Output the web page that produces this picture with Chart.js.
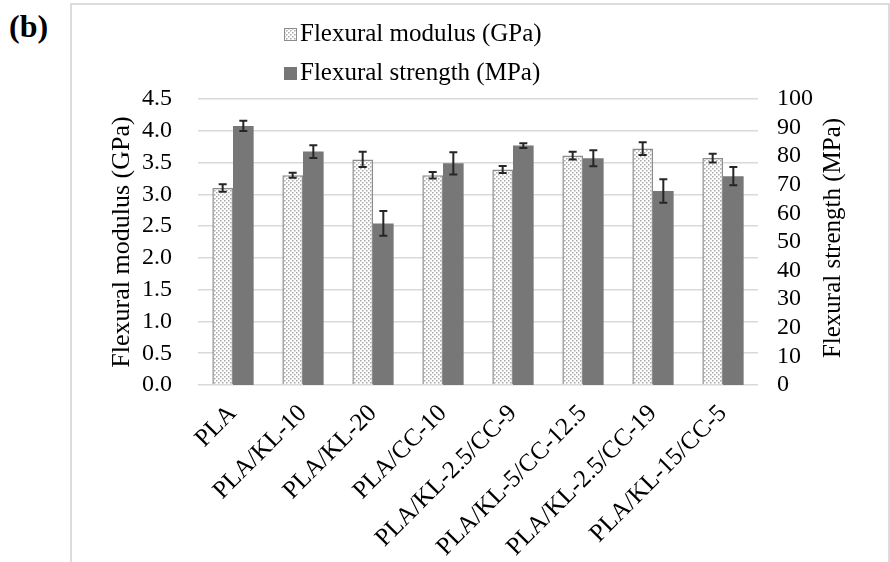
<!DOCTYPE html>
<html>
<head>
<meta charset="utf-8">
<script src="https://cdn.jsdelivr.net/npm/chart.js@4.4.1/dist/chart.umd.min.js"></script>
<style>
  html, body { margin: 0; padding: 0; background: #fff; }
  #wrap { position: relative; width: 890px; height: 562px; overflow: hidden; }
  #frame {
    position: absolute; left: 70px; top: 3px; width: 816px; height: 570px;
    border: 2px solid #dcdcdc; border-bottom: none;
  }
  #tag {
    position: absolute; left: 9px; top: 8px;
    font: bold 32px "Liberation Serif", "Times New Roman", serif; color: #000;
  }
  canvas { position: absolute; left: 0; top: 0; }
</style>
</head>
<body>
<div id="wrap">
  <div id="frame"></div>
  <div id="tag">(b)</div>
  <canvas id="chart" width="890" height="562"></canvas>
</div>
<script>
const categories = ['PLA', 'PLA/KL-10', 'PLA/KL-20', 'PLA/CC-10', 'PLA/KL-2.5/CC-9',
  'PLA/KL-5/CC-12.5', 'PLA/KL-2.5/CC-19', 'PLA/KL-15/CC-5'];
const modulus = [3.10, 3.30, 3.55, 3.30, 3.39, 3.61, 3.72, 3.57];
const modulusErr = [0.06, 0.04, 0.12, 0.05, 0.055, 0.06, 0.10, 0.07];
const strength = [90.6, 81.6, 56.5, 77.5, 83.7, 79.3, 67.8, 73.0];
const strengthErr = [1.8, 2.2, 4.3, 3.9, 0.8, 2.8, 4.1, 3.2];
const rightTitle = 'Flexural strength (MPa)';

const FONT = '"Liberation Serif", "Times New Roman", serif';

// dotted fill like the Excel pattern
function makePattern() {
  const c = document.createElement('canvas');
  c.width = 4;
  c.height = 4;
  const g = c.getContext('2d');
  g.fillStyle = '#ffffff';
  g.fillRect(0, 0, 4, 4);
  g.fillStyle = '#a8a8a8';
  g.fillRect(0, 0, 1.5, 1.5);
  g.fillRect(2, 2, 1.5, 1.5);
  return g.createPattern(c, 'repeat');
}
const dots = makePattern();

const errorBars = {
  id: 'errorBars',
  afterDatasetsDraw(chart) {
    const ctx = chart.ctx;
    ctx.save();
    ctx.strokeStyle = '#262626';
    ctx.lineWidth = 2;
    chart.data.datasets.forEach((ds, i) => {
      const meta = chart.getDatasetMeta(i);
      const scale = chart.scales[ds.yAxisID];
      meta.data.forEach((bar, j) => {
        const v = ds.data[j];
        const e = ds.errors[j];
        const y1 = scale.getPixelForValue(v + e);
        const y2 = scale.getPixelForValue(v - e);
        const x = bar.x;
        ctx.beginPath();
        ctx.moveTo(x, y1); ctx.lineTo(x, y2);
        ctx.moveTo(x - 4, y1); ctx.lineTo(x + 4, y1);
        ctx.moveTo(x - 4, y2); ctx.lineTo(x + 4, y2);
        ctx.stroke();
      });
    });
    ctx.restore();
  }
};

// legend entries stacked one above the other, plus the right axis title read bottom-up
const stackedLegend = {
  id: 'stackedLegend',
  afterDraw(chart) {
    const ctx = chart.ctx;
    ctx.save();
    ctx.font = '25px ' + FONT;
    ctx.textBaseline = 'middle';
    ctx.textAlign = 'left';
    chart.data.datasets.forEach((ds, i) => {
      const y = 34 + i * 39;
      const x = 284;
      ctx.fillStyle = ds.backgroundColor;
      ctx.fillRect(x, y - 6, 13, 13);
      if (ds.borderWidth) {
        ctx.strokeStyle = ds.borderColor;
        ctx.lineWidth = 1;
        ctx.strokeRect(x + 0.5, y - 5.5, 12, 12);
      }
      ctx.fillStyle = '#000';
      ctx.fillText(ds.label, x + 16, y);
    });

    const s = chart.scales.y2;
    const area = chart.chartArea;
    ctx.translate(s.right - 18, (area.top + area.bottom) / 2 - 4);
    ctx.rotate(-Math.PI / 2);
    ctx.textAlign = 'center';
    ctx.fillStyle = '#000';
    ctx.fillText(rightTitle, 0, 0);
    ctx.restore();
  }
};

new Chart(document.getElementById('chart'), {
  type: 'bar',
  data: {
    labels: categories,
    datasets: [
      {
        label: 'Flexural modulus (GPa)',
        data: modulus,
        errors: modulusErr,
        yAxisID: 'y',
        backgroundColor: dots,
        borderColor: '#8c8c8c',
        borderWidth: 1.5,
        categoryPercentage: 0.59,
        barPercentage: 1
      },
      {
        label: 'Flexural strength (MPa)',
        data: strength,
        errors: strengthErr,
        yAxisID: 'y2',
        backgroundColor: '#777777',
        borderWidth: 0,
        categoryPercentage: 0.59,
        barPercentage: 1
      }
    ]
  },
  options: {
    responsive: false,
    animation: false,
    layout: { padding: { left: 104, right: 39, top: 99, bottom: 0 } },
    plugins: {
      legend: { display: false },
      tooltip: { enabled: false }
    },
    scales: {
      x: {
        grid: { display: false },
        border: { display: false },
        ticks: {
          color: '#000',
          font: { family: FONT, size: 25 },
          minRotation: 45,
          maxRotation: 45,
          autoSkip: false,
          padding: 6
        },
        afterFit(scale) { scale.height = 177; }
      },
      y: {
        position: 'left',
        min: 0,
        max: 4.5,
        grid: { color: '#d9d9d9', lineWidth: 1.5, drawTicks: false },
        border: { display: false },
        ticks: {
          stepSize: 0.5,
          autoSkip: false,
          color: '#000',
          font: { family: FONT, size: 24 },
          padding: 26,
          callback: v => v.toFixed(1)
        },
        title: {
          display: true,
          text: 'Flexural modulus (GPa)',
          color: '#000',
          font: { family: FONT, size: 26 },
          padding: { top: 3, bottom: 0 }
        },
        afterFit(scale) { scale.width = 94; }
      },
      y2: {
        position: 'right',
        min: 0,
        max: 100,
        grid: { display: false, drawTicks: false },
        border: { display: false },
        ticks: {
          stepSize: 10,
          autoSkip: false,
          color: '#000',
          font: { family: FONT, size: 24 },
          padding: 19
        },
        title: { display: false },
        afterFit(scale) { scale.width = 93; }
      }
    }
  },
  plugins: [errorBars, stackedLegend]
});
</script>
</body>
</html>
